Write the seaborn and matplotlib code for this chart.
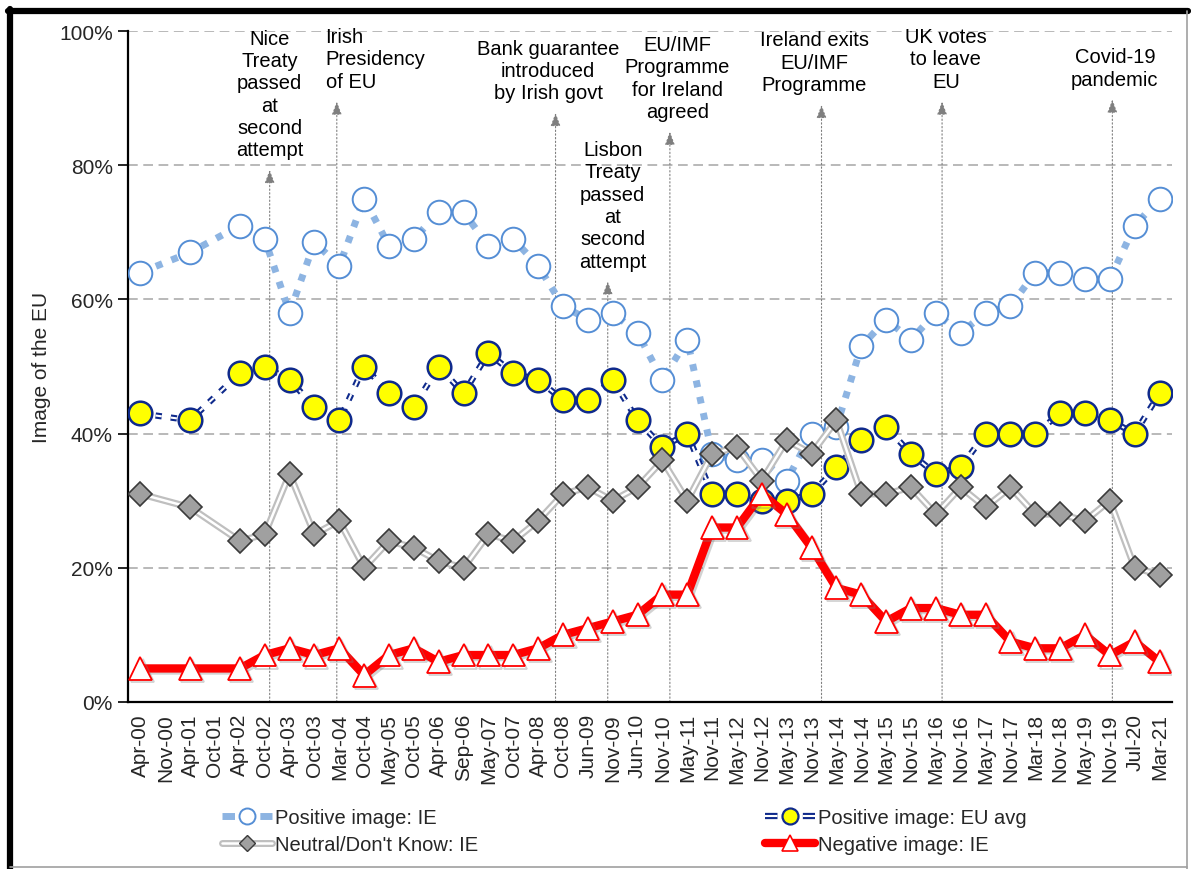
import numpy as np
import pandas as pd
import seaborn as sns
import matplotlib.pyplot as plt
import matplotlib.patheffects as pe
from matplotlib.lines import Line2D
from matplotlib.legend_handler import HandlerTuple
from matplotlib.ticker import PercentFormatter, FixedLocator

nan = np.nan

# Eurobarometer survey waves
waves = ['Apr-00', 'Nov-00', 'Apr-01', 'Oct-01', 'Apr-02', 'Oct-02', 'Apr-03', 'Oct-03',
         'Mar-04', 'Oct-04', 'May-05', 'Oct-05', 'Apr-06', 'Sep-06', 'May-07', 'Oct-07',
         'Apr-08', 'Oct-08', 'Jun-09', 'Nov-09', 'Jun-10', 'Nov-10', 'May-11', 'Nov-11',
         'May-12', 'Nov-12', 'May-13', 'Nov-13', 'May-14', 'Nov-14', 'May-15', 'Nov-15',
         'May-16', 'Nov-16', 'May-17', 'Nov-17', 'Mar-18', 'Nov-18', 'May-19', 'Nov-19',
         'Jul-20', 'Mar-21']

# % of respondents
positive_ie = [64, nan, 67, nan, 71, 69, 58, 68.5, 65, 75, 68, 69, 73, 73, 68, 69, 65, 59, 57, 58, 55,
               48, 54, 37, 36, 36, 33, 40, 41, 53, 57, 54, 58, 55, 58, 59, 64, 64, 63, 63, 71, 75]
positive_eu = [43, nan, 42, nan, 49, 50, 48, 44, 42, 50, 46, 44, 50, 46, 52, 49, 48, 45, 45, 48, 42,
               38, 40, 31, 31, 30, 30, 31, 35, 39, 41, 37, 34, 35, 40, 40, 40, 43, 43, 42, 40, 46]
neutral_ie = [31, nan, 29, nan, 24, 25, 34, 25, 27, 20, 24, 23, 21, 20, 25, 24, 27, 31, 32, 30, 32,
              36, 30, 37, 38, 33, 39, 37, 42, 31, 31, 32, 28, 32, 29, 32, 28, 28, 27, 30, 20, 19]
negative_ie = [5, nan, 5, nan, 5, 7, 8, 7, 8, 4, 7, 8, 6, 7, 7, 7, 8, 10, 11, 12, 13,
               16, 16, 26, 26, 31, 28, 23, 17, 16, 12, 14, 14, 13, 13, 9, 8, 8, 10, 7, 9, 6]

# events marked on the chart, position in wave units
event_labels = ['Nice\nTreaty\npassed\nat\nsecond\nattempt',
                'Irish\nPresidency\nof EU',
                'Bank guarantee\nintroduced\nby Irish govt',
                'Lisbon\nTreaty\npassed\nat\nsecond\nattempt',
                'EU/IMF\nProgramme\nfor Ireland\nagreed',
                'Ireland exits\nEU/IMF\nProgramme',
                'UK votes\nto leave\nEU',
                'Covid-19\npandemic']
event_at = [5.2, 7.9, 16.7, 18.8, 21.3, 27.4, 32.25, 39.1]

# where the arrows stop and where the notes sit
arrow_top = [79.3, 89.5, 87.8, 62.7, 85.0, 89.0, 89.5, 89.8]
note_x = [5.2, 7.45, 16.4, 19.0, 21.6, 27.1, 32.4, 39.2]
note_ha = ['center', 'left', 'center', 'center', 'center', 'center', 'center', 'center']

sns.set_style('white')
plt.rcParams['font.family'] = ['Liberation Sans', 'DejaVu Sans']
plt.rcParams['lines.scale_dashes'] = False

df = pd.DataFrame({'wave': np.arange(len(waves)), 'pos_ie': positive_ie, 'pos_eu': positive_eu,
                   'neutral': neutral_ie, 'negative': negative_ie})

light_blue = '#8DB4E2'
mid_blue = '#558ED5'
navy = '#0F2A8C'
grey_line = '#BFBFBF'

fig = plt.figure(figsize=(11.91, 8.70), dpi=100)
ax = fig.add_axes([128 / 1191, 1 - 703 / 870, 1044 / 1191, 671 / 870])

# positive image IE: square-dot light blue
sns.lineplot(data=df, x='wave', y='pos_ie', ax=ax, color=light_blue, linewidth=5,
             linestyle=(0, (5, 7)), legend=False, zorder=2)
sns.lineplot(data=df, x='wave', y='pos_ie', ax=ax, color=mid_blue, linestyle='none', marker='o',
             markersize=17, markerfacecolor='white', markeredgecolor=mid_blue,
             markeredgewidth=1.4, legend=False, zorder=3)

# positive image EU avg: dashed double navy line
sns.lineplot(data=df, x='wave', y='pos_eu', ax=ax, color=navy, linewidth=4.5,
             linestyle=(0, (4.5, 6.5)), legend=False, zorder=4)
sns.lineplot(data=df, x='wave', y='pos_eu', ax=ax, color='white', linewidth=1.5,
             linestyle=(0, (4.5, 6.5)), legend=False, zorder=4.1)
sns.lineplot(data=df, x='wave', y='pos_eu', ax=ax, color=navy, linestyle='none', marker='o',
             markersize=17, markerfacecolor='#FFFF00', markeredgecolor=navy,
             markeredgewidth=1.8, legend=False, zorder=5)

# neutral: grey double line with diamonds
sns.lineplot(data=df, x='wave', y='neutral', ax=ax, color=grey_line, linewidth=5,
             legend=False, zorder=6)
sns.lineplot(data=df, x='wave', y='neutral', ax=ax, color='white', linewidth=1.8,
             legend=False, zorder=6.1)
sns.lineplot(data=df, x='wave', y='neutral', ax=ax, color='#A0A0A0', linestyle='none', marker='D',
             markersize=12, markerfacecolor='#A0A0A0', markeredgecolor='#3A3A3A',
             markeredgewidth=1.2, legend=False, zorder=7)

# negative: thick red with white triangles
shadow = [pe.SimpleLineShadow(offset=(1.5, -1.5), shadow_color='grey', alpha=0.35), pe.Normal()]
sns.lineplot(data=df, x='wave', y='negative', ax=ax, color='#FF0000', linewidth=6,
             legend=False, zorder=8, path_effects=shadow)
sns.lineplot(data=df, x='wave', y='negative', ax=ax, color='#FF0000', linestyle='none', marker='^',
             markersize=16.5, markerfacecolor='white', markeredgecolor='#FF0000',
             markeredgewidth=1.3, legend=False, zorder=9, path_effects=shadow)

# event arrows and notes
for lab, xv, top, tx, ha in zip(event_labels, event_at, arrow_top, note_x, note_ha):
    ax.annotate('', xy=(xv, top), xytext=(xv, 0),
                arrowprops=dict(arrowstyle='-|>,head_length=0.8,head_width=0.3', color='#7F7F7F',
                                lw=0.8, linestyle=':', shrinkA=0, shrinkB=0),
                zorder=1.5, annotation_clip=False)
    ax.text(tx, top + 1.6, lab, ha=ha, va='bottom', fontsize=14.5, linespacing=1.22,
            color='black', zorder=10, clip_on=False)

# axes styling
ax.set_xlim(-0.5, len(waves) - 0.5)
ax.set_ylim(0, 100)
ax.set_yticks([0, 20, 40, 60, 80, 100])
ax.yaxis.set_major_formatter(PercentFormatter(decimals=0))
ax.set_xticks(np.arange(len(waves)))
ax.set_xticklabels(waves, rotation=90, fontsize=15)
ax.xaxis.set_minor_locator(FixedLocator(np.arange(-0.5, len(waves), 1)))
ax.tick_params(axis='x', which='major', length=0, pad=8)
ax.tick_params(axis='x', which='minor', length=7, width=1.2, direction='out', color='black')
ax.tick_params(axis='y', which='major', length=7, width=1.2, direction='out', color='black',
               labelsize=15, pad=4, left=True)
ax.set_xlabel('')
ax.set_ylabel('Image of the EU', fontsize=15, labelpad=6)

ax.set_axisbelow(True)
ax.yaxis.grid(True, color='#A6A6A6', linestyle=(0, (7, 4)), linewidth=1.1)
ax.xaxis.grid(False)
for side in ['top', 'right']:
    ax.spines[side].set_visible(False)
for side in ['left', 'bottom']:
    ax.spines[side].set_color('black')
    ax.spines[side].set_linewidth(1.6)

# legend, two columns placed separately; one dash either side of the marker
end_dashes = (0, (9, 18.25))
h_pos_ie = (Line2D([], [], color=light_blue, lw=5, linestyle=end_dashes),
            Line2D([], [], linestyle='none', marker='o', markersize=11.5, markerfacecolor='white',
                   markeredgecolor=mid_blue, markeredgewidth=1.4))
h_neutral = (Line2D([], [], color=grey_line, lw=5),
             Line2D([], [], color='white', lw=1.8),
             Line2D([], [], linestyle='none', marker='D', markersize=8, markerfacecolor='#A0A0A0',
                    markeredgecolor='#3A3A3A', markeredgewidth=1))
h_pos_eu = (Line2D([], [], color=navy, lw=4.5, linestyle=end_dashes),
            Line2D([], [], color='white', lw=1.5, linestyle=end_dashes),
            Line2D([], [], linestyle='none', marker='o', markersize=11.5, markerfacecolor='#FFFF00',
                   markeredgecolor=navy, markeredgewidth=1.6))
h_negative = (Line2D([], [], color='#FF0000', lw=6),
              Line2D([], [], linestyle='none', marker='^', markersize=11, markerfacecolor='white',
                     markeredgecolor='#FF0000', markeredgewidth=1.2))

legend_kw = dict(frameon=False, fontsize=14.5, handlelength=2.5, handletextpad=0.15,
                 labelspacing=0.4, borderpad=0, borderaxespad=0, loc='upper left',
                 handler_map={tuple: HandlerTuple(ndivide=1)})
fig.legend([h_pos_ie, h_neutral], ['Positive image: IE', "Neutral/Don't Know: IE"],
           bbox_to_anchor=(222 / 1191, 1 - 809 / 870), **legend_kw)
fig.legend([h_pos_eu, h_negative], ['Positive image: EU avg', 'Negative image: IE'],
           bbox_to_anchor=(765 / 1191, 1 - 809 / 870), **legend_kw)

# outer frame of the figure panel
fig.add_artist(Line2D([8 / 1191, 1188 / 1191], [1 - 12 / 870, 1 - 12 / 870], color='black', lw=4.5))
fig.add_artist(Line2D([10 / 1191, 10 / 1191], [1 - 10 / 870, 0], color='black', lw=4.5))
fig.add_artist(Line2D([1187 / 1191, 1187 / 1191], [1 - 12 / 870, 0], color='#A0A0A0', lw=1.2))
fig.add_artist(Line2D([10 / 1191, 1187 / 1191], [2 / 870, 2 / 870], color='#A0A0A0', lw=1.2))

plt.savefig('out.png', dpi=100)
